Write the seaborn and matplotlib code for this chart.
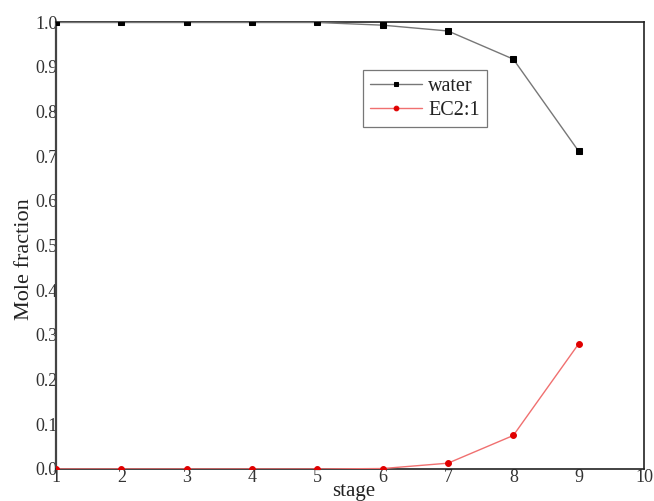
import numpy as np
import pandas as pd
import matplotlib
matplotlib.use("Agg")
import matplotlib.pyplot as plt
import seaborn as sns

# Column profile: mole fraction of each component per stage
stages = [1, 2, 3, 4, 5, 6, 7, 8, 9]
water = [0.999, 0.999, 0.999, 0.999, 0.999, 0.993, 0.980, 0.917, 0.711]
ec21 = [0.0, 0.0, 0.0, 0.0, 0.0, 0.001, 0.013, 0.075, 0.280]
x_ticks = [1, 2, 3, 4, 5, 6, 7, 8, 9, 10]
y_ticks = [0.0, 0.1, 0.2, 0.3, 0.4, 0.5, 0.6, 0.7, 0.8, 0.9, 1.0]

sns.set_style("white")
plt.rcParams["font.family"] = ["Liberation Serif", "DejaVu Serif"]

df_water = pd.DataFrame({"stage": stages, "value": water})
df_ec = pd.DataFrame({"stage": stages, "value": ec21})

fig = plt.figure(figsize=(6.54, 5.01), dpi=100)
ax = fig.add_axes([0.0856, 0.0639, 0.8991, 0.8921])

sns.lineplot(data=df_water, x="stage", y="value", ax=ax, color="#777777",
             linewidth=1.0, marker="s", markersize=4.2, markerfacecolor="black",
             markeredgecolor="black", label="water", zorder=3)
sns.lineplot(data=df_ec, x="stage", y="value", ax=ax, color="#f07070",
             linewidth=1.0, marker="o", markersize=4.2, markerfacecolor="#e00000",
             markeredgecolor="#e00000", label="EC2:1", zorder=3)

ax.set_xlim(1, 10)
ax.set_ylim(0, 1.0)
ax.set_xticks(x_ticks)
ax.set_yticks(y_ticks)
ax.set_xticklabels([str(t) for t in x_ticks])
ax.set_yticklabels([f"{t:.1f}" for t in y_ticks])
ax.tick_params(axis="both", length=0, labelsize=13, labelcolor="#333333")
ax.tick_params(axis="y", pad=-1)
ax.tick_params(axis="x", pad=0)

for side in ["top", "right", "bottom"]:
    ax.spines[side].set_color("#222222")
    ax.spines[side].set_linewidth(1.2)
ax.spines["left"].set_color("#444444")
ax.spines["left"].set_linewidth(1.6)

ax.set_xlabel("stage", fontsize=15, color="#222222", labelpad=0)
ax.set_ylabel("Mole fraction", fontsize=16, color="#222222")
ax.xaxis.set_label_coords(0.506, -0.03)
ax.yaxis.set_label_coords(-0.038, 0.469)

leg = ax.legend(loc="upper left", bbox_to_anchor=(0.522, 0.892), fontsize=14.5,
                frameon=True, fancybox=False, borderpad=0.35, handlelength=2.6,
                handletextpad=0.3, labelspacing=0.2, borderaxespad=0,
                markerscale=0.8)
leg.get_frame().set_edgecolor("#555555")
leg.get_frame().set_linewidth(0.9)
for t in leg.get_texts():
    t.set_color("#222222")

fig.savefig("out.png", dpi=100)
